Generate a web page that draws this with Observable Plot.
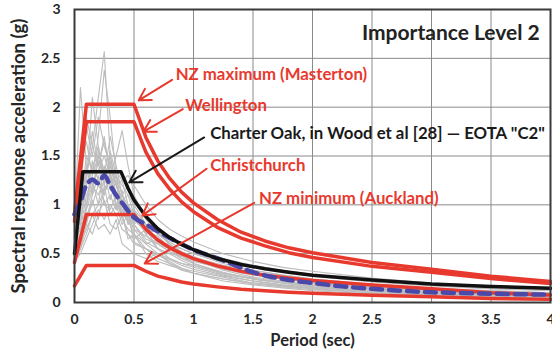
<!DOCTYPE html>
<html><head><meta charset="utf-8">
<script src="https://cdn.jsdelivr.net/npm/d3@7"></script>
<script src="https://cdn.jsdelivr.net/npm/@observablehq/plot@0.6"></script>
<style>
body{margin:0;background:#fff;}
#chart svg text{font-weight:bold;}
</style></head><body><div id="chart"></div>
<script>
// ---- Data ----
const xTicks = [0, 0.5, 1, 1.5, 2, 2.5, 3, 3.5, 4];
const xTickLabels = ["0", "0.5", "1", "1.5", "2", "2.5", "3", "3.5", "4"];
const yTicks = [0, 0.5, 1, 1.5, 2, 2.5, 3];
const yTickLabels = ["0", "0.5", "1", "1.5", "2", "2.5", "3"];

// NZ design spectra (red)
const nzPeriods    = [0, 0.1, 0.5, 0.6, 0.7, 0.8, 0.9, 1.0, 1.2, 1.4, 1.6, 1.8, 2.0, 2.5, 3.0, 3.5, 4.0];
const masterton    = [0.91, 2.03, 2.03, 1.69, 1.45, 1.27, 1.13, 1.02, 0.85, 0.72, 0.63, 0.56, 0.51, 0.41, 0.34, 0.27, 0.215];
const wellington   = [0.83, 1.85, 1.85, 1.54, 1.32, 1.16, 1.03, 0.93, 0.77, 0.66, 0.58, 0.51, 0.46, 0.37, 0.31, 0.245, 0.195];
const christchurch = [0.41, 0.90, 0.90, 0.75, 0.64, 0.56, 0.50, 0.45, 0.375, 0.32, 0.28, 0.25, 0.225, 0.18, 0.14, 0.10, 0.077];
const auckland     = [0.17, 0.38, 0.38, 0.32, 0.27, 0.24, 0.21, 0.19, 0.16, 0.135, 0.12, 0.105, 0.095, 0.075, 0.058, 0.042, 0.032];

// Charter Oak (black)
const charterPeriods = [0, 0.07, 0.39, 0.45, 0.5, 0.6, 0.7, 0.8, 0.9, 1.0, 1.2, 1.4, 1.6, 1.8, 2.0, 2.5, 3.0, 3.5, 4.0];
const charterOak     = [0.5, 1.34, 1.34, 1.17, 1.05, 0.88, 0.755, 0.665, 0.595, 0.54, 0.45, 0.39, 0.345, 0.31, 0.28, 0.23, 0.19, 0.165, 0.145];

// EOTA "C2" (blue dashed)
const eotaPeriods = [0, 0.05, 0.1, 0.15, 0.2, 0.25, 0.3, 0.35, 0.4, 0.5, 0.6, 0.7, 0.8, 1.0, 1.25, 1.5, 1.75, 2.0, 2.25, 2.5, 2.75, 3.0, 3.5, 4.0];
const eotaC2      = [0.9, 1.03, 1.2, 1.26, 1.22, 1.3, 1.2, 1.1, 1.02, 0.87, 0.8, 0.73, 0.66, 0.54, 0.43, 0.31, 0.24, 0.2, 0.165, 0.14, 0.12, 0.105, 0.09, 0.08];

// Individual ground-motion spectra (grey)
const recordPeriods = [0, 0.05, 0.1, 0.15, 0.2, 0.25, 0.3, 0.35, 0.4, 0.45, 0.5, 0.6, 0.7, 0.8, 0.9, 1.0, 1.25, 1.5, 1.75, 2.0, 2.5, 3.0, 3.5, 4.0];
const records = [
  [0.62, 0.9, 1.3, 1.6, 2.1, 2.57, 1.5, 1.2, 1.0, 0.9, 0.75, 0.6, 0.5, 0.45, 0.4, 0.36, 0.28, 0.22, 0.18, 0.15, 0.12, 0.1, 0.08, 0.07],
  [0.8, 2.2, 1.4, 1.2, 1.35, 1.5, 1.3, 1.0, 0.95, 0.85, 0.7, 0.55, 0.5, 0.42, 0.35, 0.3, 0.24, 0.2, 0.17, 0.14, 0.1, 0.08, 0.07, 0.06],
  [0.55, 0.8, 1.2, 2.1, 1.6, 1.3, 1.7, 1.4, 1.1, 0.95, 0.85, 0.72, 0.62, 0.55, 0.5, 0.45, 0.35, 0.3, 0.25, 0.21, 0.16, 0.12, 0.1, 0.09],
  [0.5, 0.7, 1.0, 1.3, 1.7, 2.38, 1.9, 1.3, 1.2, 1.1, 1.0, 0.8, 0.7, 0.6, 0.52, 0.46, 0.38, 0.33, 0.28, 0.24, 0.19, 0.15, 0.12, 0.1],
  [0.45, 0.6, 0.9, 1.0, 1.2, 1.1, 1.3, 1.5, 1.76, 1.4, 1.1, 0.85, 0.7, 0.62, 0.55, 0.5, 0.42, 0.36, 0.31, 0.27, 0.21, 0.17, 0.14, 0.12],
  [0.4, 0.55, 0.7, 0.9, 0.75, 0.8, 0.7, 0.85, 0.6, 0.55, 0.5, 0.45, 0.5, 0.4, 0.33, 0.3, 0.22, 0.18, 0.15, 0.12, 0.09, 0.07, 0.06, 0.05],
  [0.7, 1.0, 1.5, 1.35, 1.6, 1.2, 1.45, 1.1, 0.9, 1.0, 0.8, 0.9, 0.7, 0.65, 0.6, 0.55, 0.45, 0.38, 0.33, 0.29, 0.23, 0.18, 0.15, 0.13],
  [0.9, 1.3, 1.8, 1.5, 1.9, 1.6, 1.4, 1.2, 1.25, 1.0, 0.9, 0.75, 0.72, 0.6, 0.5, 0.44, 0.33, 0.26, 0.22, 0.19, 0.14, 0.11, 0.09, 0.08],
  [0.6, 0.75, 1.1, 1.25, 1.0, 1.4, 1.15, 1.3, 1.0, 0.8, 0.9, 0.7, 0.55, 0.5, 0.48, 0.4, 0.3, 0.25, 0.21, 0.18, 0.13, 0.1, 0.08, 0.07],
  [0.5, 0.65, 0.85, 1.1, 1.3, 1.0, 0.95, 1.1, 0.85, 0.75, 0.7, 0.6, 0.65, 0.55, 0.45, 0.42, 0.35, 0.3, 0.26, 0.22, 0.17, 0.13, 0.11, 0.09],
  [0.75, 1.1, 1.3, 1.75, 1.4, 1.65, 1.35, 1.0, 1.1, 1.2, 0.95, 0.8, 0.6, 0.52, 0.45, 0.4, 0.31, 0.24, 0.2, 0.17, 0.12, 0.1, 0.08, 0.06],
  [0.45, 0.6, 0.75, 0.9, 1.0, 1.15, 1.3, 1.0, 0.9, 0.7, 0.65, 0.75, 0.55, 0.45, 0.4, 0.38, 0.3, 0.24, 0.2, 0.16, 0.12, 0.09, 0.07, 0.06],
  [0.65, 0.85, 1.2, 1.4, 1.5, 1.3, 1.2, 1.35, 1.25, 1.3, 1.2, 1.0, 0.85, 0.75, 0.68, 0.62, 0.5, 0.42, 0.36, 0.32, 0.25, 0.2, 0.17, 0.15],
  [0.55, 0.7, 1.0, 1.2, 1.1, 1.25, 1.5, 1.2, 1.05, 0.9, 0.8, 0.65, 0.6, 0.55, 0.5, 0.45, 0.35, 0.3, 0.26, 0.22, 0.16, 0.13, 0.11, 0.1],
  [1.0, 1.5, 1.9, 1.6, 1.4, 1.7, 1.3, 1.1, 0.95, 0.85, 0.8, 0.62, 0.55, 0.5, 0.43, 0.38, 0.29, 0.24, 0.2, 0.16, 0.12, 0.09, 0.08, 0.07],
  [0.42, 0.5, 0.65, 0.8, 0.95, 0.85, 1.0, 0.9, 0.75, 0.7, 0.6, 0.55, 0.45, 0.4, 0.35, 0.32, 0.26, 0.2, 0.17, 0.14, 0.1, 0.08, 0.06, 0.05],
  [0.85, 1.2, 1.0, 1.45, 1.25, 1.1, 1.35, 0.95, 1.15, 0.8, 0.95, 0.7, 0.75, 0.58, 0.52, 0.47, 0.36, 0.3, 0.25, 0.2, 0.15, 0.12, 0.1, 0.09],
  [0.5, 0.9, 0.8, 1.05, 0.85, 1.2, 0.9, 1.0, 0.8, 0.9, 0.62, 0.55, 0.48, 0.44, 0.38, 0.34, 0.27, 0.22, 0.18, 0.15, 0.11, 0.09, 0.07, 0.06],
  [0.7, 0.95, 1.4, 1.1, 1.55, 1.35, 1.05, 1.25, 0.9, 0.85, 0.75, 0.68, 0.6, 0.52, 0.47, 0.43, 0.34, 0.28, 0.24, 0.2, 0.15, 0.12, 0.1, 0.08],
  [0.6, 0.7, 0.95, 1.15, 1.45, 1.0, 1.1, 0.95, 1.05, 1.1, 0.9, 0.78, 0.65, 0.58, 0.55, 0.5, 0.4, 0.33, 0.28, 0.24, 0.18, 0.14, 0.12, 0.1],
  [0.45, 0.55, 0.8, 0.7, 0.9, 1.05, 0.8, 0.75, 0.9, 0.65, 0.7, 0.5, 0.42, 0.38, 0.34, 0.3, 0.24, 0.19, 0.16, 0.13, 0.1, 0.08, 0.06, 0.05],
  [0.95, 1.4, 1.65, 1.3, 1.5, 1.2, 1.55, 1.3, 1.1, 1.0, 0.85, 0.72, 0.68, 0.56, 0.5, 0.46, 0.36, 0.3, 0.26, 0.22, 0.17, 0.13, 0.11, 0.1]
];

// Annotations (data units)
const labelTexts  = ["NZ maximum (Masterton)", "Wellington", "Charter Oak, in Wood et al [28] \u2014 EOTA \"C2\"", "Christchurch", "NZ minimum (Auckland)"];
const labelX      = [0.85, 0.93, 1.14, 1.14, 1.55];
const labelY      = [2.33, 2.02, 1.73, 1.40, 1.06];
const labelColors = ["#e8392e", "#e8392e", "#1a1a1a", "#e8392e", "#e8392e"];
const arrowFromX  = [0.82, 0.91, 1.09, 1.11, 1.51];
const arrowFromY  = [2.28, 1.98, 1.69, 1.37, 1.02];
const arrowToX    = [0.54, 0.58, 0.46, 0.57, 0.59];
const arrowToY    = [2.07, 1.75, 1.23, 0.89, 0.40];
const titleText = "Importance Level 2";
const titleX = 3.91, titleY = 2.76;
const xTitle = "Period (sec)";
const yTitle = "Spectral response acceleration (g)";

// ---- Build tables ----
const RED = "#e8392e";
const toRows = (ps, vs) => ps.map((T, i) => ({T, v: vs[i]}));
const grayRows = records.flatMap((vals, id) => vals.map((v, j) => ({T: recordPeriods[j], v, id})));
const labels = labelTexts.map((t, i) => ({t, x: labelX[i], y: labelY[i], c: labelColors[i]}));
const arrows = labelTexts.map((t, i) => ({x1: arrowFromX[i], y1: arrowFromY[i], x2: arrowToX[i], y2: arrowToY[i], c: labelColors[i]}));

const chart = Plot.plot({
  width: 552, height: 360,
  marginLeft: 74, marginRight: 2, marginTop: 9, marginBottom: 58,
  style: {fontFamily: "Lato, sans-serif", background: "#fff", color: "#262626"},
  x: {domain: [0, 4]},
  y: {domain: [0, 3]},
  marks: [
    Plot.gridX(xTicks, {stroke: "#8a8a8a", strokeOpacity: 1, strokeWidth: 1}),
    Plot.gridY(yTicks, {stroke: "#8a8a8a", strokeOpacity: 1, strokeWidth: 1}),
    Plot.line(grayRows, {x: "T", y: "v", z: "id", stroke: "#bdbdbd", strokeWidth: 1.1}),
    Plot.line(toRows(nzPeriods, masterton), {x: "T", y: "v", stroke: RED, strokeWidth: 3.5}),
    Plot.line(toRows(nzPeriods, wellington), {x: "T", y: "v", stroke: RED, strokeWidth: 3.5}),
    Plot.line(toRows(nzPeriods, christchurch), {x: "T", y: "v", stroke: RED, strokeWidth: 3.5}),
    Plot.line(toRows(nzPeriods, auckland), {x: "T", y: "v", stroke: RED, strokeWidth: 3.5}),
    Plot.line(toRows(eotaPeriods, eotaC2), {x: "T", y: "v", stroke: "#4a48a8", strokeWidth: 4.5, strokeDasharray: "11,7", curve: "catmull-rom"}),
    Plot.line(toRows(charterPeriods, charterOak), {x: "T", y: "v", stroke: "#111", strokeWidth: 3.5}),
    Plot.frame({stroke: "#3a3a3a", strokeWidth: 2}),
    Plot.axisX(xTicks, {tickSize: 0, tickPadding: 12, fontSize: 14, fontWeight: "bold", label: null, tickFormat: (d, i) => xTickLabels[i]}),
    Plot.axisY(yTicks, {tickSize: 0, tickPadding: 14, fontSize: 14, fontWeight: "bold", label: null, tickFormat: (d, i) => yTickLabels[i]}),
    Plot.text([xTitle], {frameAnchor: "bottom", dy: 43, fontSize: 16.5, fontWeight: "bold", fill: "#262626"}),
    Plot.text([yTitle], {frameAnchor: "left", textAnchor: "middle", rotate: -90, dx: -55, fontSize: 18.5, fontWeight: "bold", fill: "#262626"}),
    Plot.arrow(arrows, {x1: "x1", y1: "y1", x2: "x2", y2: "y2", stroke: "c", strokeWidth: 2, headLength: 10}),
    Plot.text(labels, {x: "x", y: "y", text: "t", fill: "c", textAnchor: "start", fontSize: 16.8, fontWeight: "bold"}),
    Plot.text([titleText], {x: () => titleX, y: () => titleY, textAnchor: "end", fontSize: 21, fontWeight: "bold", fill: "#222"})
  ]
});
document.getElementById("chart").append(chart);
</script></body></html>
